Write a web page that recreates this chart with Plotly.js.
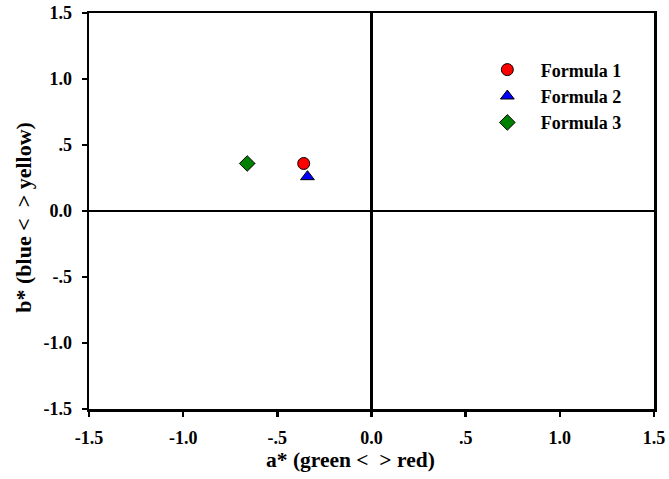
<!DOCTYPE html>
<html>
<head>
<meta charset="utf-8">
<script src="https://cdn.plot.ly/plotly-3.0.1.min.js"></script>
<style>html,body{margin:0;padding:0;background:#fff;}#chart{width:669px;height:479px;}</style>
</head>
<body>
<div id="chart"></div>
<script>
const seriesNames = ["Formula 1", "Formula 2", "Formula 3"];
const aStar = [-0.36, -0.34, -0.66];
const bStar = [0.36, 0.26, 0.36];
const symbols = ["circle", "triangle-up", "diamond"];
const colors = ["#ff0000", "#0000ff", "#008000"];
const tickVals = [-1.5, -1.0, -0.5, 0, 0.5, 1.0, 1.5];
const tickText = ["-1.5", "-1.0", "-.5", "0.0", ".5", "1.0", "1.5"];
const xTitle = "a* (green <\u00a0\u00a0> red)";
const yTitle = "b* (blue <\u00a0\u00a0> yellow)";

const font = {family: "Liberation Serif, Times New Roman, serif", color: "#000", weight: "bold"};
const f = s => Object.assign({size: s}, font);

const traces = seriesNames.map((n, i) => ({
  type: "scatter", mode: "markers",
  x: [aStar[i]], y: [bStar[i]],
  name: "\u00a0\u00a0\u00a0" + n,
  legendgroup: "g" + i,
  marker: {symbol: symbols[i], color: colors[i], size: 12, line: {color: "#000", width: 1}}
}));

const axisCommon = {
  range: [-1.5, 1.5], tickvals: tickVals, ticktext: tickText,
  showgrid: false, zeroline: true, zerolinecolor: "#000", zerolinewidth: 2.5,
  showline: true, linecolor: "#000", linewidth: 2.5, mirror: true,
  ticks: "outside", ticklen: 5, tickwidth: 2.5, tickcolor: "#000",
  tickfont: f(18)
};

const layout = {
  width: 669, height: 479,
  margin: {l: 89, r: 15, t: 13, b: 70},
  paper_bgcolor: "#fff", plot_bgcolor: "#fff",
  showlegend: true,
  legend: {x: 0.705, y: 0.903, xanchor: "left", yanchor: "top", bgcolor: "rgba(0,0,0,0)",
    font: f(18), tracegroupgap: 0},
  xaxis: Object.assign({}, axisCommon, {ticklabelstandoff: 6}),
  yaxis: Object.assign({}, axisCommon, {ticklabelstandoff: 6}),
  annotations: [
    {text: xTitle, xref: "paper", yref: "paper", x: 0.462, y: -0.13, xanchor: "center", yanchor: "middle",
     showarrow: false, font: f(21.5)},
    {text: yTitle, xref: "paper", yref: "paper", x: -0.115, y: 0.483, xanchor: "center", yanchor: "middle",
     textangle: -90, showarrow: false, font: f(22)}
  ]
};

Plotly.newPlot("chart", traces, layout, {displayModeBar: false, staticPlot: true});
</script>
</body>
</html>
